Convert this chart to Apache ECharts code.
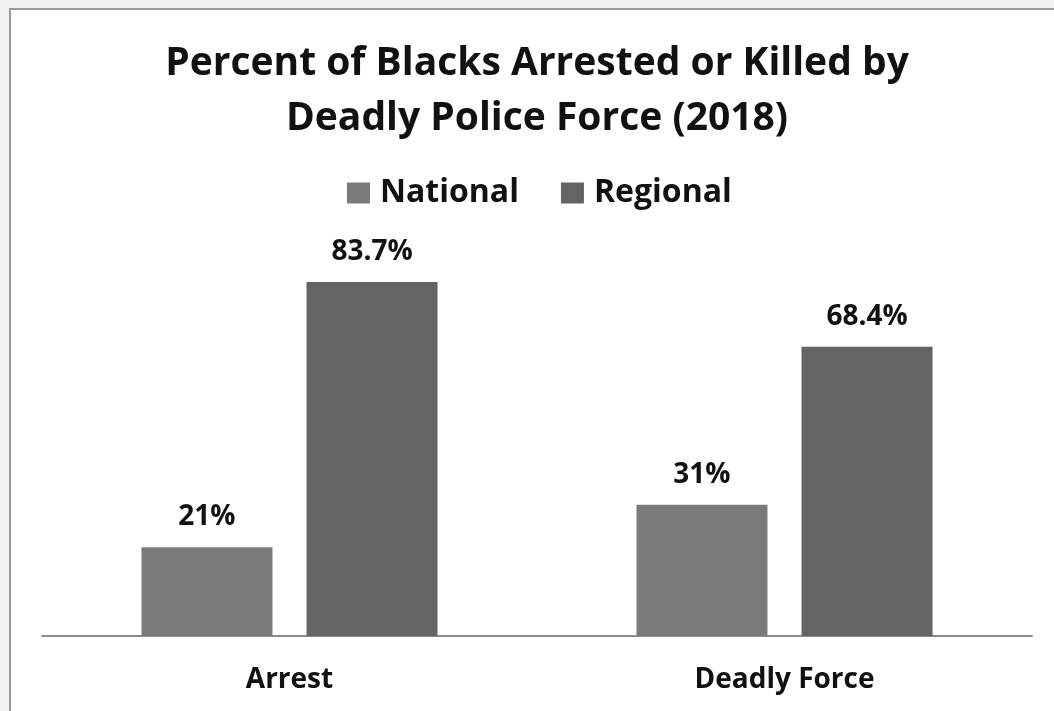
<!DOCTYPE html>
<html>
<head>
<meta charset="utf-8">
<style>
  html, body { margin: 0; padding: 0; background: #f1f1f1; }
  #chart { position: absolute; left: 0; top: 0; width: 1054px; height: 711px; }
</style>
<script src="https://cdn.jsdelivr.net/npm/echarts@6/dist/echarts.min.js"></script>
</head>
<body>
<div id="chart"></div>
<script>
// Chart data
const categories = ['Arrest', 'Deadly Force'];
const nationalValues = [21, 31];
const regionalValues = [83.7, 68.4];
const seriesNames = ['National', 'Regional'];

const FONT = '"Open Sans", "Noto Sans", sans-serif';

const valueLabel = {
  show: true,
  position: 'top',
  distance: 16,
  formatter: p => p.value + '%',
  fontFamily: FONT,
  fontWeight: 'bold',
  fontSize: 28,
  color: '#111111'
};

const chart = echarts.init(document.getElementById('chart'), null, { renderer: 'canvas' });

chart.setOption({
  backgroundColor: 'transparent',
  animation: false,
  graphic: [
    {
      // white chart area with its grey frame
      type: 'rect',
      z: -10,
      shape: { x: 10, y: 9, width: 1060, height: 720 },
      style: { fill: '#ffffff', stroke: '#9a9a9a', lineWidth: 2 }
    }
  ],
  title: {
    text: 'Percent of Blacks Arrested or Killed by\nDeadly Police Force (2018)',
    left: 532,
    textAlign: 'center',
    top: 31,
    textStyle: {
      fontFamily: FONT,
      fontWeight: 'bold',
      fontSize: 39,
      lineHeight: 55,
      color: '#111111'
    }
  },
  legend: {
    data: seriesNames,
    top: 172,
    left: 342,
    itemWidth: 23,
    itemHeight: 21,
    itemGap: 42,
    icon: 'rect',
    textStyle: {
      fontFamily: FONT,
      fontWeight: 'bold',
      fontSize: 32,
      color: '#111111',
      padding: [0, 0, 0, 5]
    }
  },
  grid: { left: 42, right: 22, top: 213, bottom: 75, containLabel: false },
  xAxis: {
    type: 'category',
    data: categories,
    axisLine: { lineStyle: { color: '#8c8c8c', width: 2 } },
    axisTick: { show: false },
    axisLabel: {
      margin: 30,
      fontFamily: FONT,
      fontWeight: 'bold',
      fontSize: 28,
      color: '#111111'
    }
  },
  yAxis: {
    type: 'value',
    min: 0,
    max: 100,
    show: false,
    splitLine: { show: false }
  },
  series: [
    {
      name: seriesNames[0],
      type: 'bar',
      data: nationalValues,
      barWidth: 131,
      barGap: '26%',
      itemStyle: { color: '#7a7a7a' },
      label: valueLabel
    },
    {
      name: seriesNames[1],
      type: 'bar',
      data: regionalValues,
      barWidth: 131,
      itemStyle: { color: '#646464' },
      label: valueLabel
    }
  ]
});
</script>
</body>
</html>
